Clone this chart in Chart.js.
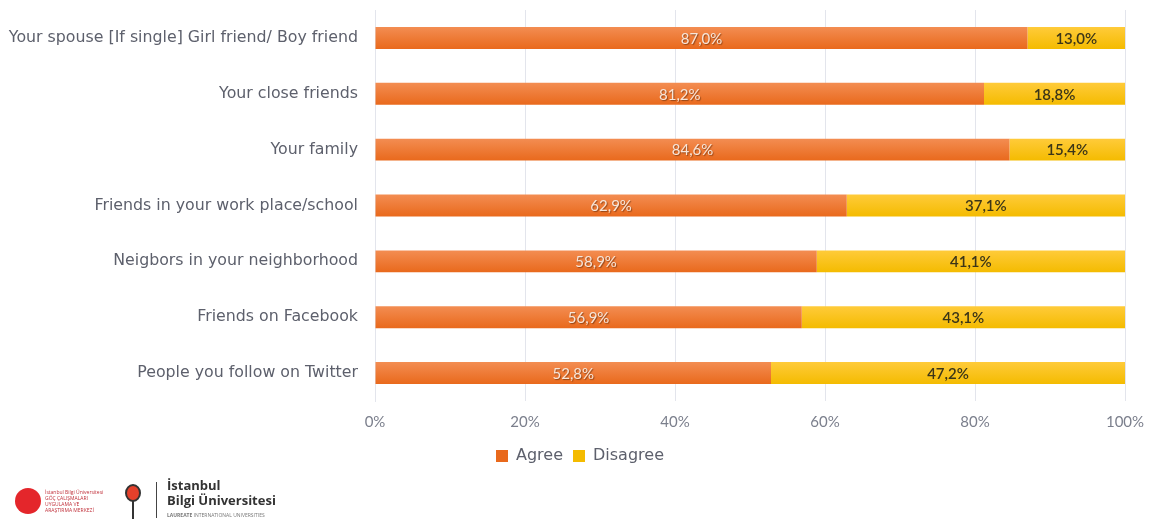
<!DOCTYPE html>
<html lang="en">
<head>
    <meta charset="UTF-8">
    <title>Trust by group</title>
    <script src="https://cdn.jsdelivr.net/npm/chart.js"></script>
    <style>
        html, body { margin: 0; padding: 0; background: #fff; }
        #wrap { position: relative; width: 1160px; height: 522px; }
        #logos { position: absolute; left: 0; top: 470px; width: 320px; height: 52px; font-family: "Open Sans", sans-serif; }
        .globe { position: absolute; left: 15px; top: 18px; width: 26px; height: 26px; border-radius: 50%; background: #e4262b; }
        .gtext { position: absolute; left: 45px; top: 19px; font-size: 5px; line-height: 6px; color: #c0303a; }
        .pin { position: absolute; left: 125px; top: 14px; width: 16px; height: 18px; border-radius: 50%; border: 2px solid #333; background: #e4402b; box-sizing: border-box; }
        .stick { position: absolute; left: 132px; top: 31px; width: 2px; height: 18px; background: #333; }
        .bar { position: absolute; left: 156px; top: 12px; width: 1px; height: 36px; background: #444; }
        .bilgi { position: absolute; left: 167px; top: 8px; font-size: 13px; line-height: 15px; font-weight: bold; color: #333; }
        .laureate { position: absolute; left: 167px; top: 42px; font-size: 5px; color: #777; white-space: nowrap; }
    </style>
</head>
<body>
<div id="wrap">
    <canvas id="trustChart" width="1160" height="522"></canvas>
    <div id="logos">
        <div class="globe"></div>
        <div class="gtext">İstanbul Bilgi Üniversitesi<br>GÖÇ ÇALIŞMALARI<br>UYGULAMA VE<br>ARAŞTIRMA MERKEZİ</div>
        <div class="pin"></div>
        <div class="stick"></div>
        <div class="bar"></div>
        <div class="bilgi">İstanbul<br>Bilgi Üniversitesi</div>
        <div class="laureate"><b>LAUREATE</b> INTERNATIONAL UNIVERSITIES</div>
    </div>
</div>

<script>
    const groups = [
        'Your spouse [If single] Girl friend/ Boy friend',
        'Your close friends',
        'Your family',
        'Friends in your work place/school',
        'Neigbors in your neighborhood',
        'Friends on Facebook',
        'People you follow on Twitter'
    ];
    const agree = [87.0, 81.2, 84.6, 62.9, 58.9, 56.9, 52.8];
    const disagree = [13.0, 18.8, 15.4, 37.1, 41.1, 43.1, 47.2];
    const xTicks = [0, 20, 40, 60, 80, 100];

    const fontFamily = 'Lato, "Open Sans", sans-serif';
    const labelFamily = '"DejaVu Sans", sans-serif';

    // vertical gradient for one bar, centred on its category row
    function barFill(top, bottom, flat) {
        return (c) => {
            const y = c.chart.scales.y;
            if (!y || !c.chart.chartArea || c.type !== 'data') return flat;
            const cy = y.getPixelForValue(c.dataIndex);
            const g = c.chart.ctx.createLinearGradient(0, cy - 11, 0, cy + 11);
            g.addColorStop(0, top);
            g.addColorStop(1, bottom);
            return g;
        };
    }

    // draws the value text in the middle of each bar segment
    const valueLabels = {
        id: 'valueLabels',
        afterDatasetsDraw(chart) {
            const ctx = chart.ctx;
            chart.data.datasets.forEach((ds, i) => {
                const meta = chart.getDatasetMeta(i);
                meta.data.forEach((bar, j) => {
                    const left = Math.min(bar.x, bar.base);
                    const right = Math.max(bar.x, bar.base);
                    const txt = ds.data[j].toFixed(1).replace('.', ',') + '%';
                    ctx.save();
                    ctx.font = (i === 0 ? '400 ' : '600 ') + '15px ' + fontFamily;
                    ctx.textAlign = 'center';
                    ctx.textBaseline = 'middle';
                    if (i === 0) {
                        ctx.shadowColor = 'rgba(90,40,10,0.6)';
                        ctx.shadowOffsetX = 1;
                        ctx.shadowOffsetY = 1;
                        ctx.shadowBlur = 1;
                        ctx.fillStyle = '#f7e6da';
                    } else {
                        ctx.fillStyle = '#3b3518';
                    }
                    ctx.fillText(txt, (left + right) / 2, bar.y + 1);
                    ctx.restore();
                });
            });
        }
    };

    const ctx = document.getElementById('trustChart').getContext('2d');
    const chart = new Chart(ctx, {
        type: 'bar',
        data: {
            labels: groups,
            datasets: [{
                label: 'Agree',
                data: agree,
                backgroundColor: barFill('#f38d52', '#e9691c', '#ed7a32'),
                borderWidth: 0,
                barPercentage: 0.8,
                categoryPercentage: 0.49
            }, {
                label: 'Disagree',
                data: disagree,
                backgroundColor: barFill('#ffcb3a', '#f4bb00', '#fcc20c'),
                borderWidth: 0,
                barPercentage: 0.8,
                categoryPercentage: 0.49
            }]
        },
        options: {
            indexAxis: 'y',
            responsive: false,
            animation: false,
            layout: { padding: { left: 35, right: 35, top: 10, bottom: 48 } },
            scales: {
                x: {
                    stacked: true,
                    min: 0,
                    max: 100,
                    afterBuildTicks: (scale) => { scale.ticks = xTicks.map(v => ({ value: v })); },
                    afterFit: (scale) => { scale.height = 37; },
                    grid: { color: '#e3e5ec', drawTicks: false },
                    border: { display: false },
                    ticks: {
                        padding: 12,
                        color: '#7b7f8c',
                        font: { family: fontFamily, size: 15 },
                        callback: (v) => v + '%'
                    }
                },
                y: {
                    stacked: true,
                    afterFit: (scale) => {
                        scale.width = 340;
                        // long labels run into the left padding, so don't clip them
                        scale._computeLabelArea = () => undefined;
                    },
                    // tick marks are invisible, they only push the labels away from the axis
                    grid: { drawOnChartArea: false, color: 'rgba(0,0,0,0)', tickLength: 17 },
                    border: { display: true, color: '#e3e5ec' },
                    ticks: {
                        padding: 0,
                        color: '#5d606c',
                        font: { family: labelFamily, size: 15.8, lineHeight: 1 }
                    }
                }
            },
            plugins: {
                legend: {
                    position: 'bottom',
                    labels: {
                        boxWidth: 12,
                        boxHeight: 12,
                        padding: 10,
                        color: '#5d606c',
                        font: { family: labelFamily, size: 16 }
                    }
                },
                tooltip: { enabled: false }
            }
        },
        plugins: [valueLabels]
    });
</script>
</body>
</html>
